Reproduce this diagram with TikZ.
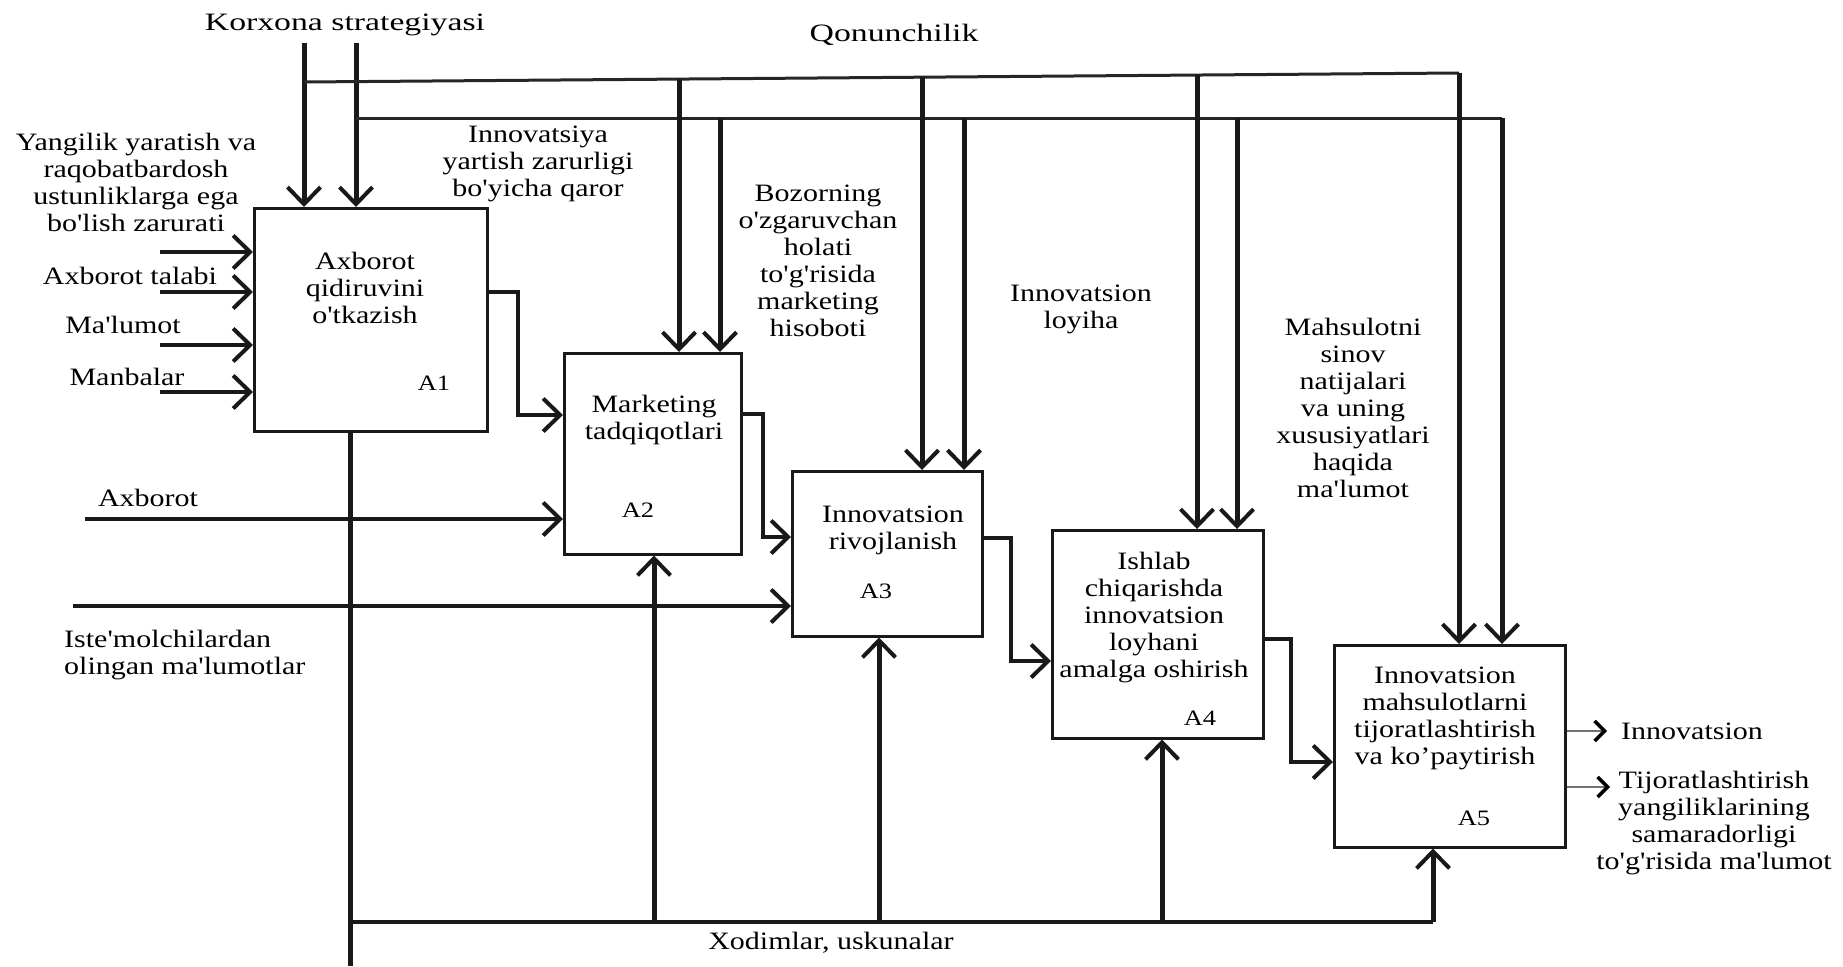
\documentclass[tikz,border=0pt]{standalone}
\usepackage{fontspec}
\setmainfont{Liberation Serif}[FakeStretch=1.2, Ligatures=TeXOff]
\newfontfamily\headfont{Liberation Serif}[FakeStretch=1.35, Ligatures=TeXOff]
\usetikzlibrary{arrows.meta}

\begin{document}
\begin{tikzpicture}[x=1pt, y=-1pt,
  box/.style={draw=black!90, line width=2.5pt, fill=white, anchor=north west, inner sep=0pt},
  txt/.style={inner sep=0pt, align=center, font=\fontsize{25}{27}\selectfont},
  head/.style={inner sep=0pt, font=\headfont\fontsize{25}{27}\selectfont},
  tag/.style={inner sep=0pt, font=\fontsize{22}{24}\selectfont},
  tip/.style={-{Straight Barb[length=17pt, width=33pt, line width=4pt]}},
  ctrl/.style={draw=black!90, line width=5pt, tip},
  bus/.style={draw=black!85, line width=3pt},
  feed/.style={draw=black!90, line width=3.5pt, tip},
  flow/.style={draw=black!90, line width=4pt, tip},
  mech/.style={draw=black!90, line width=5pt, tip},
  outp/.style={draw=black!55, line width=2pt,
    -{Straight Barb[length=10pt, width=20pt, line width=3.5pt, color=black]}},
]
\fill[white] (0,0) rectangle (1843,966);
\useasboundingbox (0,0) rectangle (1843,966);

% activity boxes
\node[box, minimum width=233pt, minimum height=223pt] (a1) at (253,207) {};
\node[box, minimum width=177pt, minimum height=201pt] (a2) at (563,352) {};
\node[box, minimum width=190pt, minimum height=165pt] (a3) at (791,470) {};
\node[box, minimum width=211pt, minimum height=208pt] (a4) at (1051,529) {};
\node[box, minimum width=231pt, minimum height=202pt] (a5) at (1333,644) {};

% box titles and numbers
\node[txt] (a1t) at (365,288) {Axborot\\qidiruvini\\o'tkazish};
\node[tag] (a1n) at (434,383) {A1};
\node[txt] (a2t) at (654,420) {Marketing\\tadqiqotlari};
\node[tag] (a2n) at (638,510) {A2};
\node[txt] (a3t) at (893,530) {Innovatsion\\rivojlanish};
\node[tag] (a3n) at (876,591) {A3};
\node[txt] (a4t) at (1154,618) {Ishlab\\chiqarishda\\innovatsion\\loyhani\\amalga oshirish};
\node[tag] (a4n) at (1200,718) {A4};
\node[txt] (a5t) at (1445,718) {Innovatsion\\mahsulotlarni\\tijoratlashtirish\\va ko’paytirish};
\node[tag] (a5n) at (1474,818) {A5};

% headings of the control buses
\node[head] (korx) at (345,25) {Korxona strategiyasi};
\node[head] (qon) at (894,35) {Qonunchilik};

% control labels
\node[txt] (qaror) at (538,164) {Innovatsiya\\yartish zarurligi\\bo'yicha qaror};
\node[txt] (bozor) at (818,261) {Bozorning\\o'zgaruvchan\\holati\\to'g'risida\\marketing\\hisoboti};
\node[txt] (loyiha) at (1081,309) {Innovatsion\\loyiha};
\node[txt] (sinov) at (1353,408) {Mahsulotni\\sinov\\natijalari\\va uning\\xususiyatlari\\haqida\\ma'lumot};

% input labels
\node[txt] (need) at (136,182) {Yangilik yaratish va\\raqobatbardosh\\ustunliklarga ega\\bo'lish zarurati};
\node[txt] (talab) at (130,276) {Axborot talabi};
\node[txt] (malumot) at (123,325) {Ma'lumot};
\node[txt] (manba) at (127,377) {Manbalar};
\node[txt] (axb) at (148,498) {Axborot};
\node[txt, align=left, anchor=west] (iste) at (64,655) {Iste'molchilardan\\olingan ma'lumotlar};

% mechanism and output labels
\node[txt] (xod) at (831,943) {Xodimlar, uskunalar};
\node[txt, anchor=west] (out1) at (1621,731) {Innovatsion};
\node[txt] (out2) at (1714,823) {Tijoratlashtirish\\yangiliklarining\\samaradorligi\\to'g'risida ma'lumot};

% free ends of the connectors
\coordinate (k1) at (304,43);
\coordinate (k2) at (356,43);
\coordinate (b1s) at (304,82);
\coordinate (b1e) at (1459,73);
\coordinate (b2s) at (356,118);
\coordinate (b2e) at (1502,118);
\coordinate (i1) at (160,252);
\coordinate (i2) at (160,292);
\coordinate (i3) at (160,345);
\coordinate (i4) at (160,392);
\coordinate (i5) at (85,519);
\coordinate (i6) at (73,606);
\coordinate (m0) at (350,966);
\coordinate (mb) at (350,922);
\coordinate (mc) at (1433,922);
\coordinate (o1) at (1607,731);
\coordinate (o2) at (1610,787);
% taps on the strategy bus
\coordinate (t1) at (679,79);
\coordinate (t2) at (922,77);
\coordinate (t3) at (1197,75);
% taps on the legislation bus
\coordinate (u1) at (720,118);
\coordinate (u2) at (964,118);
\coordinate (u3) at (1237,118);

% controls: strategy and legislation buses
\draw[ctrl] (k1) -- (k1 |- a1.north);
\draw[ctrl] (k2) -- (k2 |- a1.north);
\draw[bus] (b1s) -- (b1e);
\draw[bus] (b2s) -- (b2e);
\draw[ctrl] (b1e) -- (b1e |- a5.north);
\draw[ctrl] (b2e) -- (b2e |- a5.north);
\draw[ctrl] (t1) -- (t1 |- a2.north);
\draw[ctrl] (u1) -- (u1 |- a2.north);
\draw[ctrl] (t2) -- (t2 |- a3.north);
\draw[ctrl] (u2) -- (u2 |- a3.north);
\draw[ctrl] (t3) -- (t3 |- a4.north);
\draw[ctrl] (u3) -- (u3 |- a4.north);

% inputs
\draw[feed] (i1) -- (i1 -| a1.west);
\draw[feed] (i2) -- (i2 -| a1.west);
\draw[feed] (i3) -- (i3 -| a1.west);
\draw[feed] (i4) -- (i4 -| a1.west);
\draw[feed] (i5) -- (i5 -| a2.west);
\draw[feed] (i6) -- (i6 -| a3.west);

% flow between activities
\draw[flow] (a1.east |- 0,292) -- (518,292) -- (518,415) -- (a2.west |- 0,415);
\draw[flow] (a2.east |- 0,414) -- (763,414) -- (763,537) -- (a3.west |- 0,537);
\draw[flow] (a3.east |- 0,538) -- (1011,538) -- (1011,661) -- (a4.west |- 0,661);
\draw[flow] (a4.east |- 0,639) -- (1291,639) -- (1291,762) -- (a5.west |- 0,762);

% mechanisms
\draw[draw=black!90, line width=5pt] (a1.south -| m0) -- (m0);
\draw[draw=black!90, line width=3.5pt] (mb) -- (mc);
\draw[mech] (mc) -- (mc |- a5.south);
\draw[mech] (654,922) -- (654,922 |- a2.south);
\draw[mech] (879,922) -- (879,922 |- a3.south);
\draw[mech] (1162,922) -- (1162,922 |- a4.south);

% outputs
\draw[outp] (a5.east |- o1) -- (o1);
\draw[outp] (a5.east |- o2) -- (o2);
\end{tikzpicture}
\end{document}
